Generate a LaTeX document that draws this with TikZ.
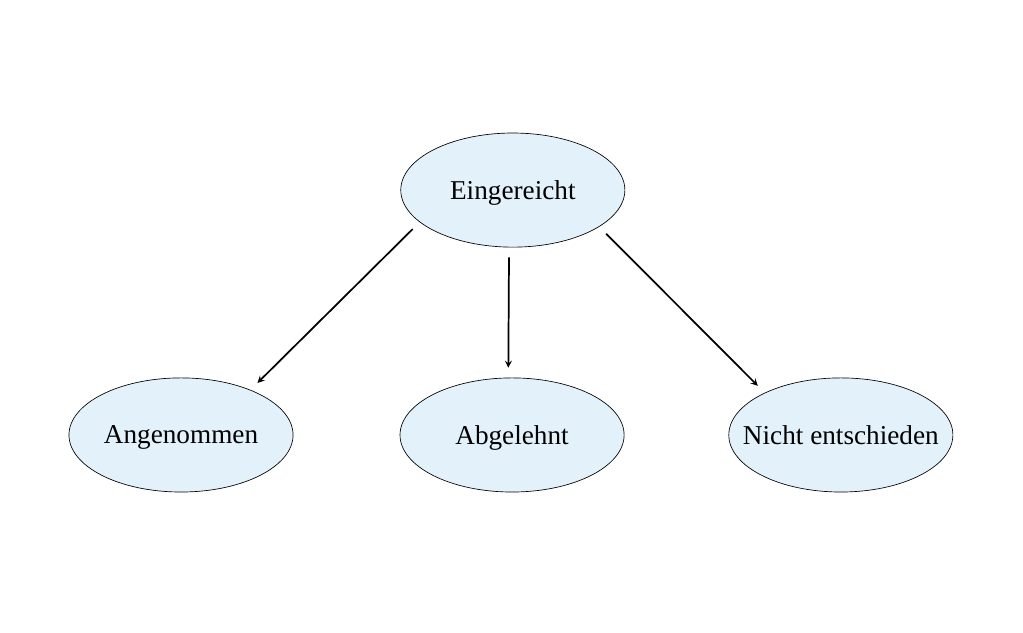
\documentclass[tikz,border=0pt]{standalone}
\usepackage{fontspec}
\setmainfont{Liberation Serif}
\usetikzlibrary{shapes.geometric,arrows}
\definecolor{statusfill}{RGB}{227,242,250}

\tikzset{
  status/.style={ellipse,draw=black,line width=0.5pt,fill=statusfill,
    minimum width=5.93cm,minimum height=3.02cm,inner xsep=-1cm,inner ysep=0pt,
    text depth=0pt,font=\fontsize{20.5}{24}\selectfont},
  pfeil/.style={-stealth,line width=1.3pt,shorten <=0.26cm,shorten >=0.26cm}
}

\begin{document}
\begin{tikzpicture}

\useasboundingbox (0,0) rectangle (27.07,16.75);

\node[status] (eing) at (13.57,11.72) {Eingereicht};
\node[status] (ang) at (4.79,5.24) {Angenommen};
\node[status] (abg) at (13.55,5.24) {Abgelehnt};
\node[status] (nicht) at (22.25,5.24) {Nicht entschieden};

\draw[pfeil] (eing.199) -- (ang.33);
\draw[pfeil] ([xshift=-0.1cm]eing.south) -- ([xshift=-0.1cm]abg.north);
\draw[pfeil] (eing.337) -- (nicht.151);
\end{tikzpicture}
\end{document}
